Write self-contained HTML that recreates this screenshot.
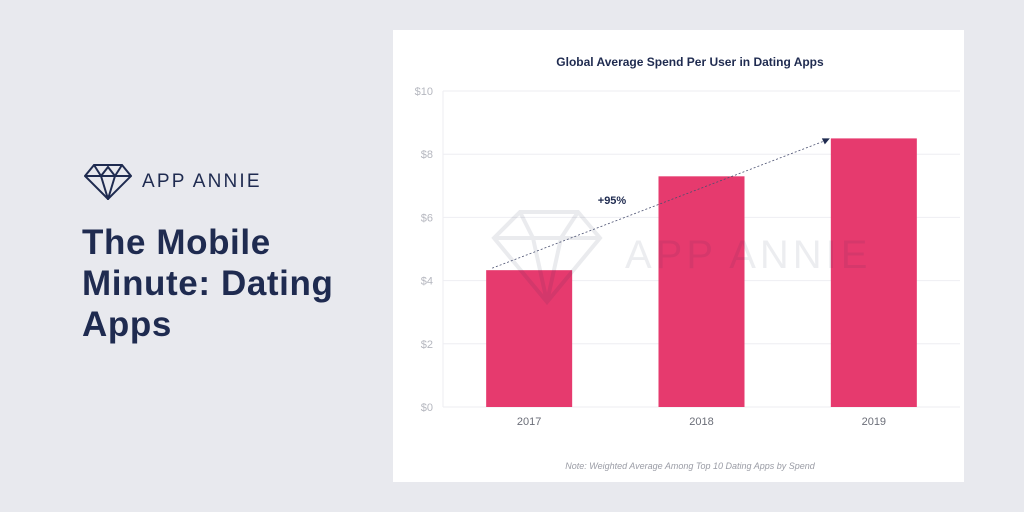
<!DOCTYPE html>
<html><head><meta charset="utf-8"><style>
body{margin:0;width:1024px;height:512px;background:#e8e9ee;font-family:"Liberation Sans",sans-serif;position:relative;overflow:hidden}
.brand{position:absolute;left:84px;top:164px;display:flex;align-items:center}
.brand span{font-size:19px;color:#1f2b50;letter-spacing:2.2px;margin-left:10px}
h1{position:absolute;left:82px;top:222px;margin:0;font-size:35px;line-height:41px;color:#1f2b50;font-weight:bold;letter-spacing:0.6px}
.card{position:absolute;left:393px;top:30px;width:571px;height:452px;background:#fff}
</style></head><body>
<div class="brand">
<svg width="48" height="36" viewBox="0 0 48 36"><g fill="none" stroke="#1f2b50" stroke-width="2"><path d="M10 1H38L47 12L24 35L1 12Z"/><path d="M1 12H47M10 1L17 12L24 35L31 12L38 1M17 12L24 3L31 12"/></g></svg>
<span>APP ANNIE</span></div>
<h1>The Mobile<br>Minute: Dating<br>Apps</h1>
<div class="card"></div>
<svg id="chart" width="1024" height="512" style="position:absolute;left:0;top:0"></svg>
<script>
const categories=["2017","2018","2019"];
const values=[4.33,7.3,8.5];
const ticks=[0,2,4,6,8,10];
const tickLabels=["$0","$2","$4","$6","$8","$10"];
const NS="http://www.w3.org/2000/svg";
const svg=document.getElementById('chart');
const x0=443,x1=960,y0=407,y1=91,ymax=10;
const band=(x1-x0)/categories.length;
const Y=v=>y0-(v/ymax)*(y0-y1);
const X=i=>x0+band*(i+0.5);
function mk(t,a,txt){const e=document.createElementNS(NS,t);for(const k in a)e.setAttribute(k,a[k]);if(txt!=null)e.textContent=txt;svg.appendChild(e);return e;}
let e=mk('text',{x:690,y:66,'text-anchor':'middle','font-size':12,'font-weight':'bold',fill:'#1f2b50'},'Global Average Spend Per User in Dating Apps');


ticks.forEach((t,i)=>{
 let g=mk('line',{x1:x0,x2:x1,y1:Y(t),y2:Y(t),stroke:'#eeeef2','stroke-width':1});
 
 
 let l=mk('text',{x:433,y:Y(t)+4,'text-anchor':'end','font-size':11,fill:'#b5b7bf'},tickLabels[i]);
 
 
});
let ax=mk('line',{x1:x0,x2:x0,y1:y1,y2:y0,stroke:'#eeeef2'});


values.forEach((v,i)=>{
 let b=mk('rect',{x:X(i)-43,y:Y(v),width:86,height:y0-Y(v),fill:'#e63a6e'});
 
 
 let l=mk('text',{x:X(i),y:425,'text-anchor':'middle','font-size':11,fill:'#6b6e78'},categories[i]);
 
 
});
let wm=mk('g',{opacity:0.09,fill:'none',stroke:'#1f2b50','stroke-width':4});
wm.innerHTML='<path d="M520 212H578L600 238L547 302L494 238Z"/><path d="M494 238H600M520 212L533 238L547 302L561 238L578 212"/>';


let wt=mk('text',{x:625,y:268,'font-size':40,fill:'#1f2b50',opacity:0.08,'letter-spacing':4},'APP ANNIE');


const ax1=X(0)-37,ay1=Y(values[0])-2,ax2=X(2)-44,ay2=Y(values[2]);
let ar=mk('line',{x1:ax1,y1:ay1,x2:ax2-4,y2:ay2+2,stroke:'#4a5070','stroke-width':0.8,'stroke-dasharray':'2,2'});


let ah=mk('path',{d:`M${ax2} ${ay2} l-8 0 l3 6 z`,fill:'#1f2b50'});


let pc=mk('text',{x:612,y:204,'text-anchor':'middle','font-size':11,'font-weight':'bold',fill:'#1f2b50'},'+95%');


let nt=mk('text',{x:690,y:469,'text-anchor':'middle','font-size':9,'font-style':'italic',fill:'#9a9ca5'},'Note: Weighted Average Among Top 10 Dating Apps by Spend');


</script>
</body></html>
